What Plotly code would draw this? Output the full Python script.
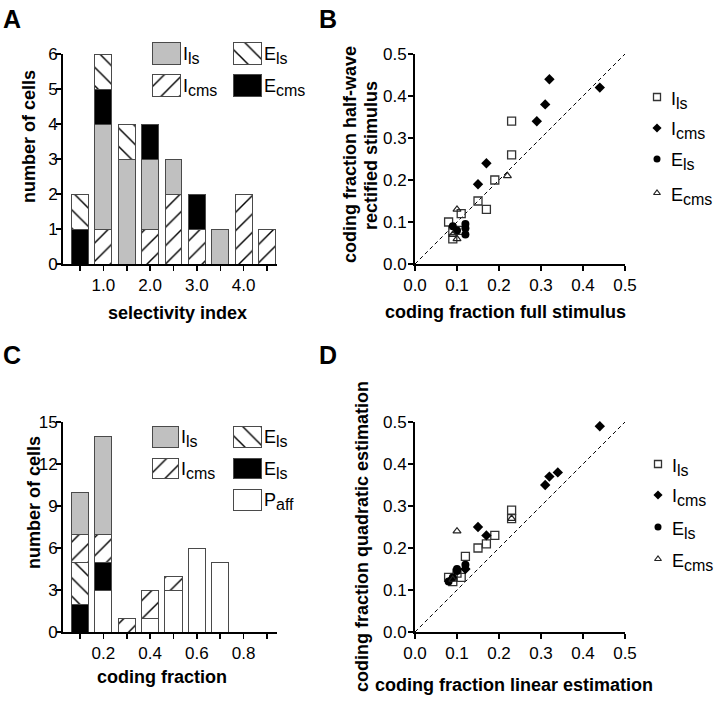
import plotly.graph_objects as go

W, H = 720, 703

# ---------------- data ----------------
# Panel A: selectivity index histogram (stacked counts)
sel_bins = [0.5, 1.0, 1.5, 2.0, 2.5, 3.0, 3.5, 4.0, 4.5]
sel_tick_labels = ["", "1.0", "", "2.0", "", "3.0", "", "4.0", ""]
a_icms = [0, 1, 0, 1, 2, 1, 0, 2, 1]
a_ils = [0, 3, 3, 2, 1, 0, 1, 0, 0]
a_ecms = [1, 1, 0, 1, 0, 1, 0, 0, 0]
a_els = [1, 1, 1, 0, 0, 0, 0, 0, 0]

# Panel C: coding fraction histogram (stacked counts)
cf_bins = [0.1, 0.2, 0.3, 0.4, 0.5, 0.6, 0.7, 0.8, 0.9]
cf_tick_labels = ["", "0.2", "", "0.4", "", "0.6", "", "0.8", ""]
c_paff = [0, 3, 0, 1, 3, 6, 5, 0, 0]
c_ecms = [2, 2, 0, 0, 0, 0, 0, 0, 0]
c_els = [3, 0, 0, 0, 0, 0, 0, 0, 0]
c_icms = [2, 2, 1, 2, 1, 0, 0, 0, 0]
c_ils = [3, 7, 0, 0, 0, 0, 0, 0, 0]

# Panel B: full stimulus vs half-wave rectified stimulus
b_ils_x = [0.08, 0.09, 0.09, 0.11, 0.11, 0.15, 0.17, 0.19, 0.23, 0.23]
b_ils_y = [0.10, 0.08, 0.06, 0.12, 0.08, 0.15, 0.13, 0.20, 0.26, 0.34]
b_icms_x = [0.15, 0.17, 0.29, 0.31, 0.32, 0.44]
b_icms_y = [0.19, 0.24, 0.34, 0.38, 0.44, 0.42]
b_els_x = [0.09, 0.10, 0.12, 0.12, 0.12]
b_els_y = [0.09, 0.08, 0.095, 0.085, 0.07]
b_ecms_x = [0.09, 0.10, 0.10, 0.22]
b_ecms_y = [0.07, 0.06, 0.13, 0.21]

# Panel D: linear vs quadratic estimation
d_ils_x = [0.08, 0.09, 0.10, 0.11, 0.12, 0.15, 0.17, 0.19, 0.23, 0.23]
d_ils_y = [0.13, 0.12, 0.14, 0.13, 0.18, 0.20, 0.21, 0.23, 0.29, 0.27]
d_icms_x = [0.12, 0.15, 0.17, 0.31, 0.32, 0.34, 0.44]
d_icms_y = [0.15, 0.25, 0.23, 0.35, 0.37, 0.38, 0.49]
d_els_x = [0.08, 0.09, 0.10, 0.10, 0.12]
d_els_y = [0.12, 0.13, 0.15, 0.145, 0.16]
d_ecms_x = [0.09, 0.10, 0.23]
d_ecms_y = [0.125, 0.24, 0.27]

identity_line = [0.0, 0.5]
scatter_ticks = [0.0, 0.1, 0.2, 0.3, 0.4, 0.5]

# ---------------- styles ----------------
FONT = "Liberation Sans, Arial, Helvetica, sans-serif"
GRAY = "#c0c0c0"
EDGE = "#4a4a4a"
TICKF = 17
TITLEF = 18


def px(x):
    return x / W


def py(y):
    return 1 - y / H


def nz(vals):
    # empty stack segments are not drawn
    return [v if v else None for v in vals]


def style_fill(kind):
    if kind == "gray":
        return dict(color=GRAY, line=dict(color=EDGE, width=1))
    if kind == "black":
        return dict(color="black", line=dict(color=EDGE, width=1))
    if kind == "white":
        return dict(color="white", line=dict(color=EDGE, width=1))
    shape = "/" if kind == "fwd" else "\\"
    return dict(color="white", line=dict(color=EDGE, width=1),
                pattern=dict(shape=shape, fgcolor="black", bgcolor="white",
                             size=13, solidity=0.11, fillmode="replace"))


fig = go.Figure()

# Panel A bars (bottom to top)
for vals, kind in [(a_icms, "fwd"), (a_ils, "gray"), (a_ecms, "black"), (a_els, "back")]:
    fig.add_trace(go.Bar(x=sel_bins, y=nz(vals), width=0.36, marker=style_fill(kind),
                         xaxis="x", yaxis="y", showlegend=False))

# Panel C bars (bottom to top)
for vals, kind in [(c_paff, "white"), (c_ecms, "black"), (c_els, "back"),
                   (c_icms, "fwd"), (c_ils, "gray")]:
    fig.add_trace(go.Bar(x=cf_bins, y=nz(vals), width=0.073, marker=style_fill(kind),
                         xaxis="x3", yaxis="y3", showlegend=False))

# Scatter markers
MK = {
    "ils": dict(symbol="square-open", size=8, color="#333", line=dict(width=1.3, color="#333")),
    "icms": dict(symbol="diamond", size=8, color="black"),
    "els": dict(symbol="circle", size=8, color="black"),
    "ecms": dict(symbol="triangle-up-open", size=7, color="#222", line=dict(width=1.2, color="#222")),
}

for xa, ya, sets in [
    ("x2", "y2", [(b_ils_x, b_ils_y, "ils"), (b_icms_x, b_icms_y, "icms"),
                  (b_els_x, b_els_y, "els"), (b_ecms_x, b_ecms_y, "ecms")]),
    ("x4", "y4", [(d_ils_x, d_ils_y, "ils"), (d_icms_x, d_icms_y, "icms"),
                  (d_els_x, d_els_y, "els"), (d_ecms_x, d_ecms_y, "ecms")]),
]:
    fig.add_trace(go.Scatter(x=identity_line, y=identity_line, mode="lines",
                             line=dict(color="black", width=1, dash="4px,3px"),
                             xaxis=xa, yaxis=ya, showlegend=False, cliponaxis=False))
    for xs, ys, k in sets:
        fig.add_trace(go.Scatter(x=xs, y=ys, mode="markers", marker=MK[k],
                                 xaxis=xa, yaxis=ya, showlegend=False, cliponaxis=False))

# ---------------- legends (drawn on a pixel-space helper axis) ----------------
def sub(main, s):
    return f'{main}<sub><span style="font-size:16px">{s}</span></sub>'


bar_legend = [
    # (x0, x1, y0, y1, kind, label)
    (152, 180, 42, 64, "gray", sub("I", "ls")),
    (233, 261, 42, 64, "back", sub("E", "ls")),
    (152, 180, 74, 96, "fwd", sub("I", "cms")),
    (233, 261, 74, 96, "black", sub("E", "cms")),
    (152, 178, 426, 447, "gray", sub("I", "ls")),
    (233, 261, 426, 447, "back", sub("E", "ls")),
    (152, 178, 458, 478, "fwd", sub("I", "cms")),
    (233, 261, 458, 478, "black", sub("E", "ls")),
    (233, 261, 489, 510, "white", sub("P", "aff")),
]
annotations = []
for x0, x1, y0, y1, kind, label in bar_legend:
    fig.add_trace(go.Bar(x=[(x0 + x1) / 2], y=[y1 - y0], base=[y0], width=[x1 - x0],
                         marker=style_fill(kind), xaxis="x5", yaxis="y5", showlegend=False))
    annotations.append(dict(x=px(x1 + 1), y=py((y0 + y1) / 2 + 2), xref="paper", yref="paper",
                            text=label, showarrow=False, xanchor="left", yanchor="middle",
                            font=dict(size=18, family=FONT, color="black")))

scatter_legend = [
    (657, 97, "ils", sub("I", "ls")),
    (657, 128, "icms", sub("I", "cms")),
    (657, 159, "els", sub("E", "ls")),
    (657, 193, "ecms", sub("E", "cms")),
    (658, 464, "ils", sub("I", "ls")),
    (658, 495, "icms", sub("I", "cms")),
    (658, 527, "els", sub("E", "ls")),
    (658, 559, "ecms", sub("E", "cms")),
]
for x, y, k, label in scatter_legend:
    m = dict(MK[k])
    m["size"] = m["size"] - 1
    fig.add_trace(go.Scatter(x=[x], y=[y], mode="markers", marker=m,
                             xaxis="x5", yaxis="y5", showlegend=False))
    annotations.append(dict(x=px(x + 12), y=py(y + 3), xref="paper", yref="paper",
                            text=label, showarrow=False, xanchor="left", yanchor="middle",
                            font=dict(size=18, family=FONT, color="black")))

# ---------------- text: panel letters and axis titles ----------------
for t, x, y in [("A", 12, 19), ("B", 328, 19), ("C", 12, 355), ("D", 328, 355)]:
    annotations.append(dict(x=px(x), y=py(y), xref="paper", yref="paper", text=f"<b>{t}</b>",
                            showarrow=False, xanchor="center", yanchor="middle",
                            font=dict(size=25, family=FONT, color="black")))

titles = [
    ("selectivity index", 177, 313, 0),
    ("coding fraction full stimulus", 506, 312, 0),
    ("coding fraction", 162, 677, 0),
    ("coding fraction linear estimation", 514, 685, 0),
    ("number of cells", 29, 137, -90),
    ("number of cells", 34, 503, -90),
    ("coding fraction half-wave", 350, 155, -90),
    ("rectified stimulus", 371, 155, -90),
    ("coding fraction quadratic estimation", 362, 537, -90),
]
for t, x, y, ang in titles:
    annotations.append(dict(x=px(x), y=py(y), xref="paper", yref="paper", text=f"<b>{t}</b>",
                            showarrow=False, xanchor="center", yanchor="middle", textangle=ang,
                            font=dict(size=TITLEF, family=FONT, color="black")))

# ---------------- axes ----------------
def axis(domain, rng, **kw):
    d = dict(domain=domain, range=rng, showline=True, linecolor="black", linewidth=2,
             ticks="outside", ticklen=5, tickwidth=1.5, tickcolor="black", automargin=False,
             showgrid=False, zeroline=False, tickfont=dict(size=TICKF, family=FONT, color="black"))
    d.update(kw)
    return d


XA = [px(63), px(277)]
XB = [px(415), px(625)]
YTOP = [py(264), py(54)]
YBOT = [py(632), py(422)]

fig.update_layout(
    width=W, height=H, autosize=False,
    margin=dict(l=0, r=0, t=0, b=0, pad=0, autoexpand=False),
    paper_bgcolor="white", plot_bgcolor="rgba(0,0,0,0)",
    barmode="stack", bargap=0,
    font=dict(family=FONT, color="black"),
    xaxis=axis(XA, [0.136, 4.714], anchor="y", tickvals=sel_bins, ticktext=sel_tick_labels),
    yaxis=axis(YTOP, [0, 6], anchor="x", tickvals=[0, 1, 2, 3, 4, 5, 6], ticklabelstandoff=-5),
    xaxis2=axis(XB, [0, 0.5], anchor="y2", tickvals=scatter_ticks, tickformat=".1f"),
    yaxis2=axis(YTOP, [0, 0.5], anchor="x2", tickvals=scatter_ticks, tickformat=".1f",
                ticklabelstandoff=-2),
    xaxis3=axis(XA, [0.0271, 0.9429], anchor="y3", tickvals=cf_bins, ticktext=cf_tick_labels),
    yaxis3=axis(YBOT, [0, 15], anchor="x3", tickvals=[0, 3, 6, 9, 12, 15], ticklabelstandoff=-5),
    xaxis4=axis(XB, [0, 0.5], anchor="y4", tickvals=scatter_ticks, tickformat=".1f"),
    yaxis4=axis(YBOT, [0, 0.5], anchor="x4", tickvals=scatter_ticks, tickformat=".1f",
                ticklabelstandoff=-2),
    xaxis5=dict(domain=[0, 1], range=[0, W], visible=False, anchor="y5", fixedrange=True),
    yaxis5=dict(domain=[0, 1], range=[H, 0], visible=False, anchor="x5", fixedrange=True),
    annotations=annotations,
    showlegend=False,
)

fig.write_html("out.html", config={"displayModeBar": False, "staticPlot": True},
               post_script="document.body.style.margin='0px';document.body.style.overflow='hidden';")
